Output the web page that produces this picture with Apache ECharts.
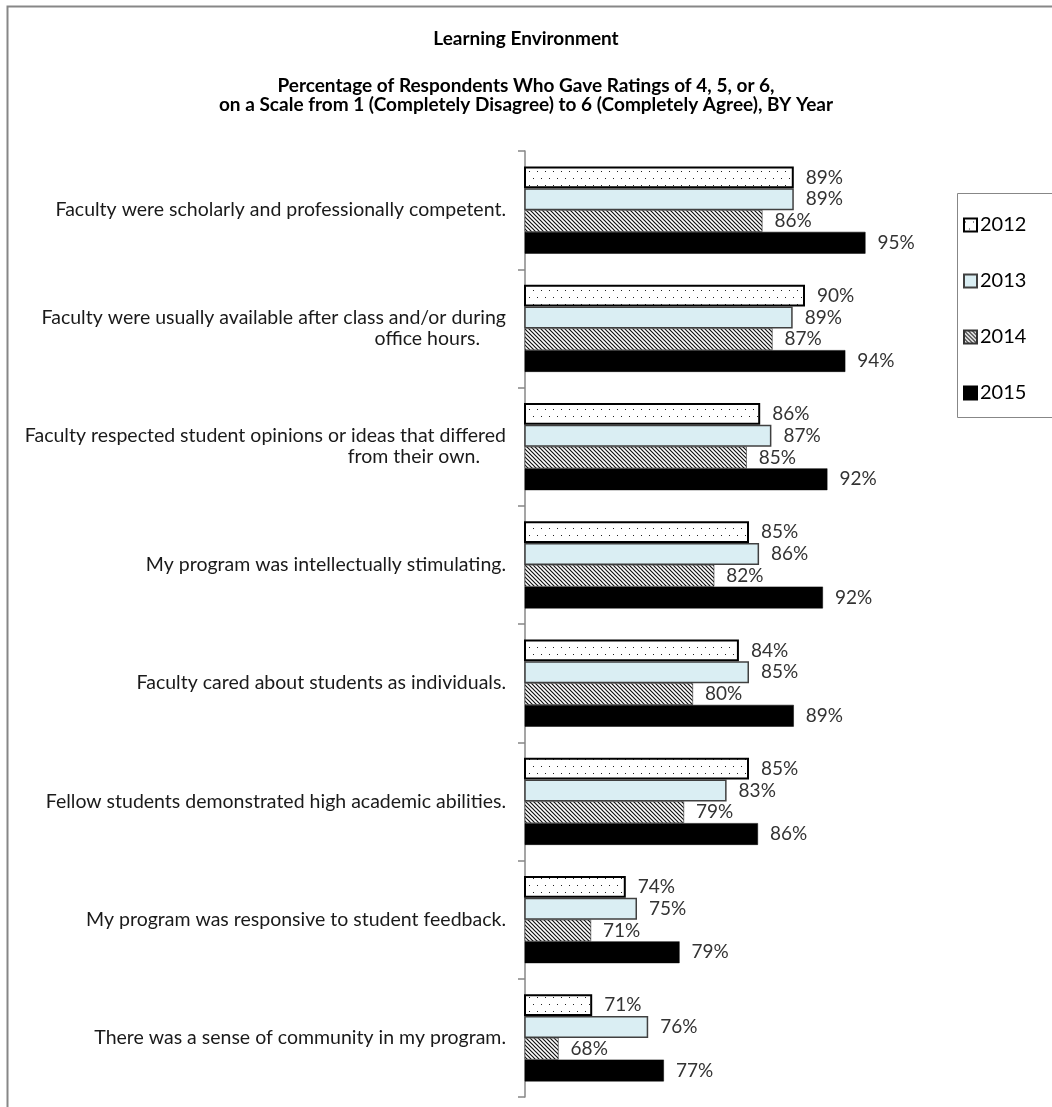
<!DOCTYPE html>
<html>
<head>
<meta charset="utf-8">
<style>
  html, body { margin: 0; padding: 0; background: #fff; }
  #chart { width: 1052px; height: 1107px; }
</style>
<script src="https://cdn.jsdelivr.net/npm/echarts@6/dist/echarts.min.js"></script>
</head>
<body>
<div id="chart"></div>
<script>
const categories = [
  'Faculty were scholarly and professionally competent.',
  'Faculty were usually available after class and/or during\noffice hours.',
  'Faculty respected student opinions or ideas that differed\nfrom their own.',
  'My program was intellectually stimulating.',
  'Faculty cared about students as individuals.',
  'Fellow students demonstrated high academic abilities.',
  'My program was responsive to student feedback.',
  'There was a sense of community in my program.'
];
const years = ['2012', '2013', '2014', '2015'];
const v2012 = [89.0, 90.0, 86.0, 85.0, 84.1, 85.0, 74.0, 71.0];
const v2013 = [89.0, 88.9, 87.0, 85.9, 85.0, 83.0, 75.0, 76.0];
const v2014 = [86.2, 87.1, 84.8, 81.9, 80.0, 79.2, 70.9, 68.0];
const v2015 = [95.4, 93.6, 92.0, 91.6, 89.0, 85.8, 78.8, 77.4];
const titleText = 'Learning Environment';
const subtitleText = 'Percentage of Respondents Who Gave Ratings of 4, 5, or 6,\non a Scale from 1 (Completely Disagree) to 6 (Completely Agree), BY Year';

const FONT = 'Lato';

function dotPattern() {
  const c = document.createElement('canvas');
  c.width = 8; c.height = 14;
  const g = c.getContext('2d');
  g.fillStyle = '#ffffff'; g.fillRect(0, 0, 8, 14);
  g.fillStyle = '#222222';
  g.fillRect(1, 3, 1, 1);
  g.fillRect(5, 10, 1, 1);
  return { image: c, repeat: 'repeat' };
}
function hatchPattern() {
  const c = document.createElement('canvas');
  c.width = 4; c.height = 4;
  const g = c.getContext('2d');
  g.fillStyle = '#ffffff'; g.fillRect(0, 0, 4, 4);
  g.strokeStyle = '#111111'; g.lineWidth = 1.2;
  g.beginPath();
  g.moveTo(-1, -1); g.lineTo(5, 5);
  g.moveTo(-1, 3); g.lineTo(1, 5);
  g.moveTo(3, -1); g.lineTo(5, 1);
  g.stroke();
  return { image: c, repeat: 'repeat' };
}

const styles = [
  { color: dotPattern(), borderColor: '#000000', borderWidth: 2 },
  { color: '#DAEEF3', borderColor: '#404040', borderWidth: 1.5 },
  { color: hatchPattern(), borderColor: '#333333', borderWidth: 0.6 },
  { color: '#000000', borderColor: '#000000', borderWidth: 0.5 }
];
const seriesValues = [v2012, v2013, v2014, v2015];

const chart = echarts.init(document.getElementById('chart'), null, { renderer: 'canvas' });

const labelFormatter = function (val) {
  const parts = val.split('\n');
  if (parts.length === 1) return '{a|' + parts[0] + '}';
  return '{a|' + parts[0] + '}\n{b|' + parts[1] + '}';
};

chart.setOption({
  backgroundColor: '#ffffff',
  animation: false,
  textStyle: { fontFamily: FONT },
  graphic: [
    { type: 'rect', left: 5, top: 4, shape: { width: 1200, height: 1300 }, style: { fill: 'none', stroke: '#878787', lineWidth: 2 }, z: 0 },
    { type: 'rect', left: 955, top: 191, shape: { width: 200, height: 224 }, style: { fill: 'none', stroke: '#878787', lineWidth: 1 }, z: 0 }
  ],
  title: [
    { text: titleText, left: 'center', top: 24, textStyle: { fontFamily: FONT, fontSize: 19, fontWeight: 'bold', color: '#000000' } },
    { text: subtitleText, left: 'center', top: 71, textStyle: { fontFamily: FONT, fontSize: 19, fontWeight: 'bold', color: '#000000', lineHeight: 19 } }
  ],
  legend: {
    orient: 'vertical',
    left: 958,
    top: 210,
    itemWidth: 13,
    itemHeight: 13,
    itemGap: 36,
    icon: 'rect',
    data: years,
    textStyle: { fontFamily: FONT, fontSize: 20, color: '#000000', lineHeight: 20, padding: [0, 0, 0, -2] }
  },
  grid: { left: 525, top: 151, width: 392, height: 946, containLabel: false },
  xAxis: {
    type: 'value', min: 65, max: 100,
    axisLine: { show: false }, axisTick: { show: false },
    axisLabel: { show: false }, splitLine: { show: false }
  },
  yAxis: {
    type: 'category',
    inverse: true,
    data: categories,
    axisLine: { show: true, lineStyle: { color: '#878787', width: 1.5 } },
    axisTick: { show: true, length: 7, lineStyle: { color: '#878787', width: 1.5 } },
    axisLabel: {
      margin: 19,
      formatter: labelFormatter,
      rich: {
        a: { fontFamily: FONT, fontSize: 19.5, color: '#1a1a1a', lineHeight: 21, align: 'right' },
        b: { fontFamily: FONT, fontSize: 19.5, color: '#1a1a1a', lineHeight: 21, align: 'right', padding: [0, 26, 0, 0] }
      }
    }
  },
  series: years.map(function (y, i) {
    return {
      name: y,
      type: 'bar',
      data: seriesValues[i],
      barGap: '0%',
      barCategoryGap: '26.4%',
      itemStyle: styles[i],
      label: {
        show: true,
        position: 'right',
        distance: 12,
        fontFamily: FONT,
        fontSize: 19,
        color: '#333333',
        formatter: function (p) { return Math.round(p.value) + '%'; }
      }
    };
  })
});
</script>
</body>
</html>
